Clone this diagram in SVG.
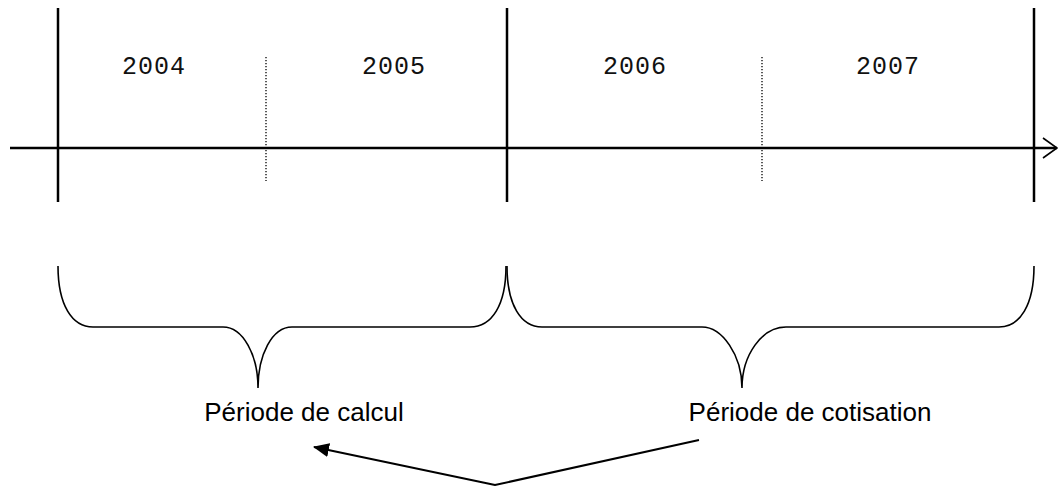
<svg xmlns="http://www.w3.org/2000/svg" width="1058" height="486" viewBox="0 0 1058 486">
  <style>
    .bold { stroke: #000; stroke-width: 2.5; fill: none; }
    .dot { stroke: #000; stroke-width: 1.3; stroke-dasharray: 1.2 1.8; fill: none; }
    .brace { stroke: #000; stroke-width: 1.6; fill: none; }
    .conn { stroke: #000; stroke-width: 2; fill: none; }
    .year { font-family: "Courier New", "Liberation Mono", monospace; font-size: 25px; letter-spacing: 1px; fill: #111; text-anchor: middle; }
    .label { font-family: "Liberation Sans", Arial, sans-serif; font-size: 26px; fill: #000; text-anchor: middle; }
  </style>
  <defs>
    <marker id="arrow" viewBox="0 0 16 14" refX="15" refY="7" markerWidth="16" markerHeight="14" markerUnits="userSpaceOnUse" orient="auto">
      <path d="M0,0 L16,7 L0,14 Z" fill="#000"/>
    </marker>
  </defs>
  <rect width="1058" height="486" fill="#fff"/>

  <g id="timeline">
    <line class="bold" x1="10" y1="148" x2="1057" y2="148"/>
    <polyline points="1043,138 1057,148 1043,158" fill="none" stroke="#000" stroke-width="1.6"/>
    <line class="bold" x1="58" y1="8" x2="58" y2="202"/>
    <line class="bold" x1="507" y1="8" x2="507" y2="202"/>
    <line class="bold" x1="1034" y1="8" x2="1034" y2="202"/>
    <line class="dot" x1="266" y1="57" x2="266" y2="181"/>
    <line class="dot" x1="762" y1="57" x2="762" y2="181"/>
  </g>

  <g id="year-2004"><text class="year" x="154" y="74">2004</text></g>
  <g id="year-2005"><text class="year" x="394" y="74">2005</text></g>
  <g id="year-2006"><text class="year" x="635" y="74">2006</text></g>
  <g id="year-2007"><text class="year" x="888" y="74">2007</text></g>

  <g id="periode-calcul">
    <path class="brace" d="M58,266 C58,305 72,327 93,327 L223,327 C243,327 258,355 258,388 C258,355 272,327 292,327 L470,327 C492,327 506,305 506,266"/>
    <text class="label" x="304" y="421">Période de calcul</text>
  </g>

  <g id="periode-cotisation">
    <path class="brace" d="M507,266 C507,305 521,327 542,327 L702,327 C722,327 742,355 742,388 C742,355 762,327 786,327 L999,327 C1020,327 1034,305 1034,266"/>
    <text class="label" x="810" y="421">Période de cotisation</text>
  </g>

  <g id="connectors">
    <polyline class="conn" points="699,440 495,485 314,447" marker-end="url(#arrow)"/>
  </g>
</svg>
